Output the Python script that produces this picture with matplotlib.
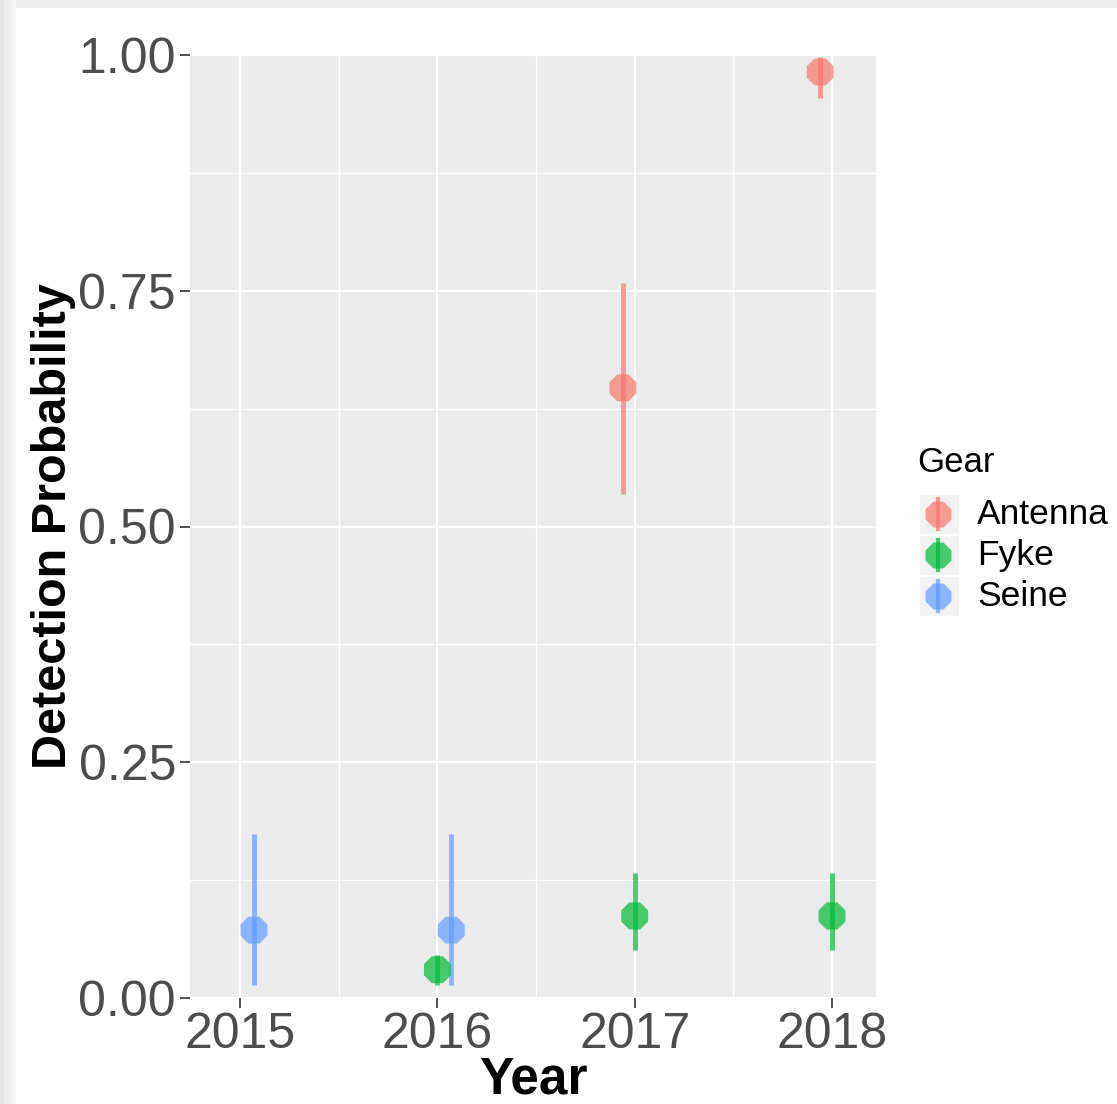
import numpy as np
import matplotlib as mpl
import matplotlib.pyplot as plt
from matplotlib.patches import Rectangle

mpl.rc('font', family=['Liberation Sans', 'DejaVu Sans'])

# Detection probability estimates with 95% intervals, by gear and year
gears = ['Antenna', 'Fyke', 'Seine']
colours = ['#F8766D', '#00BA38', '#619CFF']
dodge = [-0.06, 0.0, 0.07]

years = {
    'Antenna': [2017, 2018],
    'Fyke': [2016, 2017, 2018],
    'Seine': [2015, 2016],
}
estimate = {
    'Antenna': [0.647, 0.982],
    'Fyke': [0.030, 0.087, 0.087],
    'Seine': [0.072, 0.072],
}
lower = {
    'Antenna': [0.534, 0.954],
    'Fyke': [0.014, 0.051, 0.051],
    'Seine': [0.014, 0.014],
}
upper = {
    'Antenna': [0.758, 0.998],
    'Fyke': [0.046, 0.133, 0.133],
    'Seine': [0.174, 0.174],
}

fig = plt.figure(figsize=(11.17, 11.04), dpi=100)

# window frame along the top and left edges
fig.patches.append(Rectangle((0, 1 - 8 / 1104), 1, 8 / 1104, transform=fig.transFigure,
                             facecolor='#EEEEEE', edgecolor='none', zorder=0))
for i, c in enumerate(['#E4E4E4', '#EAEAEA', '#EFEFEF', '#F4F4F4']):
    fig.patches.append(Rectangle((i * 4 / 1117, 0), 4 / 1117, 1, transform=fig.transFigure,
                                 facecolor=c, edgecolor='none', zorder=0))

ax = fig.add_axes([190 / 1117, 106 / 1104, 686 / 1117, 943 / 1104])
ax.set_facecolor('#EBEBEB')
for s in ax.spines.values():
    s.set_visible(False)

for x in [2015, 2016, 2017, 2018]:
    ax.axvline(x, color='white', lw=1.6, zorder=0)
for x in [2015.5, 2016.5, 2017.5]:
    ax.axvline(x, color='white', lw=1.0, zorder=0)
for y in [0, 0.25, 0.5, 0.75, 1.0]:
    ax.axhline(y, color='white', lw=1.6, zorder=0)
for y in [0.125, 0.375, 0.625, 0.875]:
    ax.axhline(y, color='white', lw=1.0, zorder=0)

handles = []
for g, c, d in zip(gears, colours, dodge):
    x = np.array(years[g]) + d
    est = np.array(estimate[g])
    ax.vlines(x, lower[g], upper[g], color=c, lw=3.5, alpha=0.7, zorder=2)
    ax.scatter(x, est, s=440, color=c, alpha=0.7, edgecolors='none', marker='8', zorder=3)
    handles.append((g, c))

ax.set_xlim(2014.746, 2018.223)
ax.set_ylim(0, 1)
ax.set_xticks([2015, 2016, 2017, 2018])
ax.set_yticks([0, 0.25, 0.5, 0.75, 1.0])
ax.set_yticklabels(['0.00', '0.25', '0.50', '0.75', '1.00'])
ax.tick_params(axis='both', length=7, width=1.2, color='#333333',
               labelsize=36, labelcolor='#4D4D4D', pad=3)
ax.set_xlabel('Year', fontsize=37, fontweight='bold', labelpad=-2)
ax.set_ylabel('Detection Probability', fontsize=35, fontweight='bold', labelpad=2)

# legend drawn by hand in figure pixels
fig.text(917 / 1117, 1 - 462 / 1104, 'Gear', fontsize=25, va='center', ha='left')
for i, (g, c) in enumerate(handles):
    yc = 514 + i * 41
    kx, ky = 919 / 1117, 1 - (yc + 20) / 1104
    fig.patches.append(Rectangle((kx, ky), 40 / 1117, 40 / 1104, transform=fig.transFigure,
                                 facecolor='#F2F2F2', edgecolor='white', lw=1))
    fig.add_artist(plt.Line2D([938 / 1117] * 2, [1 - (yc - 15) / 1104, 1 - (yc + 15) / 1104],
                              transform=fig.transFigure, color=c, lw=3, alpha=0.7))
    fig.add_artist(plt.Line2D([938 / 1117], [1 - yc / 1104], transform=fig.transFigure,
                              marker='8', markersize=20, color=c, alpha=0.7, mec='none', lw=0))
    fig.text(977 / 1117, 1 - yc / 1104, g, fontsize=25.5, va='center', ha='left')

fig.savefig('out.png', dpi=100)
